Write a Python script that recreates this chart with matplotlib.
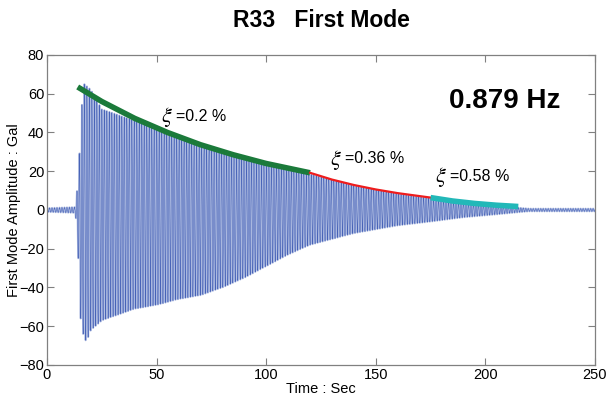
import numpy as np
import matplotlib
matplotlib.use("Agg")
import matplotlib.pyplot as plt

plt.rcParams['font.family'] = ['Liberation Sans', 'DejaVu Sans']
plt.rcParams['mathtext.fontset'] = 'stix'

# ---- data ----
freq_hz = 0.879
# upper (positive) envelope of the recorded signal
up_t = [0, 13, 14.5, 15.5, 17, 20, 25, 30, 40, 50, 60, 70, 80, 90, 100, 110, 120,
        140, 160, 175, 190, 205, 215, 220, 250]
up_a = [1.0, 1.5, 20, 50, 65, 62, 52, 50, 46, 42, 38, 33, 30, 27, 24, 21, 18.5,
        12.5, 8.3, 6.0, 3.8, 2.3, 1.2, 0.7, 0.7]
# lower (negative) envelope of the recorded signal
lo_t = [0, 13, 14.5, 15.5, 17, 18, 20, 25, 30, 40, 50, 60, 70, 80, 90, 100, 110, 120,
        140, 160, 175, 190, 205, 215, 220, 250]
lo_a = [-1.0, -1.5, -30, -60, -66, -68, -62, -57, -55, -51, -49, -46, -44, -40, -35,
        -29, -23, -18, -12, -8, -6, -3.8, -2.3, -1.2, -0.7, -0.7]

# fitted decay envelopes
green_t = [14, 25, 40, 55, 70, 85, 100, 120]
green_a = [63.5, 56.0, 47.3, 40.0, 33.7, 28.5, 24.0, 19.2]
red_t = [120, 130, 140, 150, 160, 175]
red_a = [19.2, 15.7, 12.9, 10.6, 8.7, 6.4]
cyan_t = [175, 185, 195, 205, 215]
cyan_a = [6.4, 4.65, 3.39, 2.47, 1.8]

damping = ["=0.2 %", "=0.36 %", "=0.58 %"]
label_pos = [(52, 44.5), (129, 22.5), (177, 13.5)]

# ---- signal built from the envelopes ----
t = np.arange(0, 250, 0.02)
c = np.cos(2 * np.pi * freq_hz * t)
upper = np.interp(t, up_t, up_a)
lower = np.interp(t, lo_t, lo_a)
sig = np.where(c >= 0, upper * c, -lower * c)

fig = plt.figure(figsize=(6.08, 4.05), dpi=100)
ax = fig.add_axes([0.0773, 0.0988, 0.9013, 0.7654])

ax.plot(t, sig, color='#aab8df', lw=1.4)
ax.plot(t, sig, color='#3452b0', lw=0.3)
ax.plot(green_t, green_a, color='#1b7a3a', lw=4, solid_capstyle='butt')
ax.plot(red_t, red_a, color='#ee1c1c', lw=1.6)
ax.plot(cyan_t, cyan_a, color='#22b8b8', lw=4, solid_capstyle='butt')

for s, (x, y) in zip(damping, label_pos):
    ax.text(x, y - 2.8, r"$\xi$", fontsize=16, ha='left', va='bottom')
    ax.text(x + 7.0, y, s, fontsize=11.5, ha='left', va='bottom')

ax.text(0.936, 0.85, "0.879 Hz", transform=ax.transAxes, fontsize=20,
        fontweight='bold', ha='right', va='center')

ax.set_xlim(0, 250)
ax.set_ylim(-80, 80)
ax.set_xticks([0, 50, 100, 150, 200, 250])
ax.set_yticks([-80, -60, -40, -20, 0, 20, 40, 60, 80])
ax.tick_params(direction='in', top=True, right=True, length=5, width=0.8,
               color='#808080', labelsize=10.5, pad=2)
for sp in ax.spines.values():
    sp.set_color('#808080')
    sp.set_linewidth(0.9)

ax.set_xlabel("Time : Sec", fontsize=10.5, labelpad=0)
ax.set_ylabel("First Mode Amplitude : Gal", fontsize=10.5, va='center')
ax.yaxis.set_label_coords(-0.06, 0.5)
ax.set_title("R33   First Mode", fontsize=16.5, fontweight='bold', pad=20)

fig.savefig("out.png", dpi=100)
